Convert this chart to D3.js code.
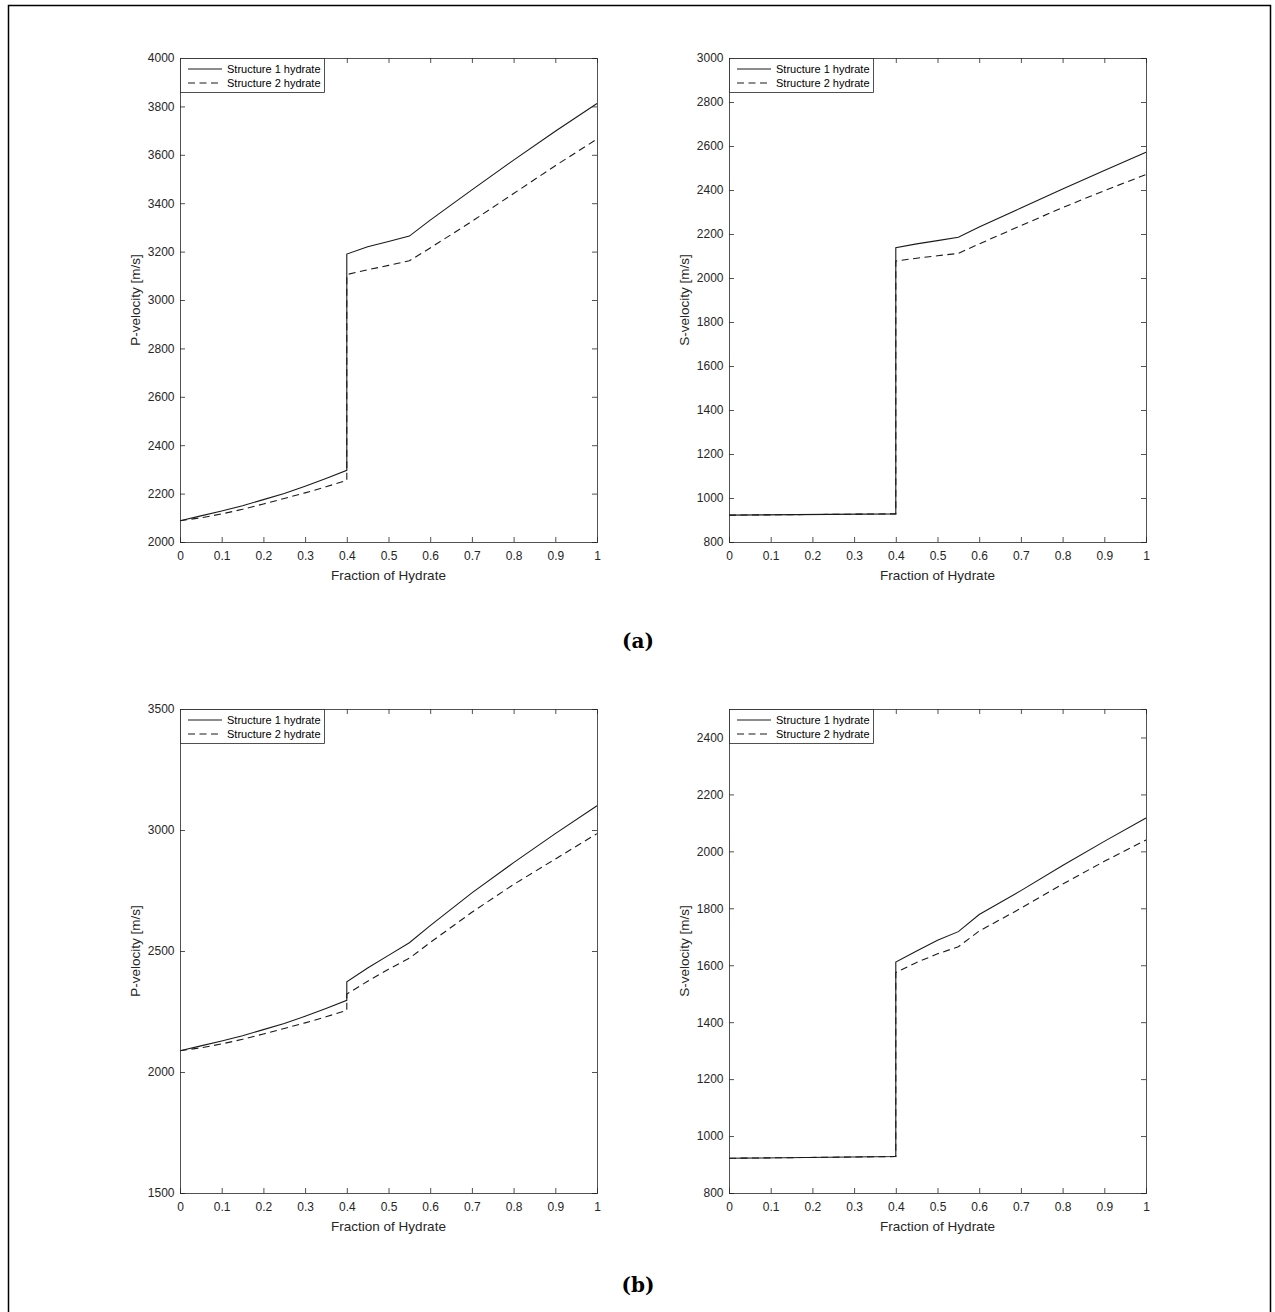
<!DOCTYPE html>
<html>
<head>
<meta charset="utf-8">
<script src="https://cdn.jsdelivr.net/npm/d3@7"></script>
<style>
  body { margin: 0; background: #fff; }
  svg text { font-family: "Liberation Sans", Arial, sans-serif; }
</style>
</head>
<body>
<div id="chart"></div>
<script>
// --- Data ---
// fraction of hydrate, lower branch (0 - 0.4) shared by the P panels
const lowX = [0, 0.05, 0.1, 0.15, 0.2, 0.25, 0.3, 0.35, 0.4];
const pLowS1 = [2088, 2108, 2128, 2150, 2175, 2200, 2230, 2262, 2296];
const pLowS2 = [2088, 2100, 2116, 2135, 2157, 2180, 2203, 2228, 2255];
// S panels, lower branch (nearly flat)
const sLowX = [0, 0.4];
const sLowS1 = [922, 928];
const sLowS2 = [922, 928];

// upper branch (0.4 - 1)
const highX = [0.4, 0.45, 0.5, 0.55, 0.6, 0.7, 0.8, 0.9, 1];
const pTopS1 = [3190, 3220, 3242, 3264, 3330, 3455, 3578, 3697, 3812];
const pTopS2 = [3105, 3125, 3143, 3162, 3215, 3325, 3440, 3555, 3665];
const sTopS1 = [2138, 2155, 2170, 2185, 2232, 2318, 2404, 2489, 2572];
const sTopS2 = [2077, 2090, 2101, 2112, 2155, 2238, 2320, 2397, 2470];
const pBotS1 = [2373, 2430, 2482, 2534, 2605, 2740, 2865, 2985, 3100];
const pBotS2 = [2322, 2375, 2425, 2470, 2535, 2660, 2775, 2880, 2985];
const sBotS1 = [1611, 1650, 1688, 1718, 1778, 1862, 1950, 2035, 2117];
const sBotS2 = [1574, 1610, 1640, 1665, 1720, 1800, 1885, 1965, 2040];

const xTicks = [0, 0.1, 0.2, 0.3, 0.4, 0.5, 0.6, 0.7, 0.8, 0.9, 1];
const legendLabels = ["Structure 1 hydrate", "Structure 2 hydrate"];

const W = 1275, H = 1312;
const PW = 417, PH = 484;
const AX = "#262626";

const svg = d3.select("#chart").append("svg")
    .attr("width", W)
    .attr("height", H);

// outer frame (bottom edge runs off the page)
svg.append("path")
    .attr("d", "M8.5,1320V5.5H1270.5V1320")
    .attr("fill", "none")
    .attr("stroke", "#000")
    .attr("stroke-width", 1.5);

function toPoints(xs, ys) {
    return xs.map((x, i) => [x, ys[i]]);
}

function drawPanel(left, top, yDomain, yTicks, yLabel, s1, s2) {
    const g = svg.append("g").attr("transform", `translate(${left},${top})`);
    const x = d3.scaleLinear().domain([0, 1]).range([0, PW]);
    const y = d3.scaleLinear().domain(yDomain).range([PH, 0]);

    const line = d3.line().x(d => x(d[0])).y(d => y(d[1]));

    // series: solid and dashed, both jumping at 0.4
    g.append("path")
        .datum(s2)
        .attr("d", line)
        .attr("fill", "none")
        .attr("stroke", "#1a1a1a")
        .attr("stroke-width", 1.1)
        .attr("stroke-dasharray", "7,4.5");
    g.append("path")
        .datum(s1)
        .attr("d", line)
        .attr("fill", "none")
        .attr("stroke", "#1a1a1a")
        .attr("stroke-width", 1.1);

    // axes, MATLAB style: ticks inside, box on
    const tl = 5;
    const xb = g.append("g").attr("transform", `translate(0,${PH})`)
        .call(d3.axisBottom(x).tickValues(xTicks).tickSize(-tl).tickPadding(9.5)
            .tickFormat(d3.format("")));
    const xt = g.append("g")
        .call(d3.axisTop(x).tickValues(xTicks).tickSize(-tl).tickFormat(""));
    const yl = g.append("g")
        .call(d3.axisLeft(y).tickValues(yTicks).tickSize(-tl).tickPadding(5.5)
            .tickFormat(d3.format("")));
    const yr = g.append("g").attr("transform", `translate(${PW},0)`)
        .call(d3.axisRight(y).tickValues(yTicks).tickSize(-tl).tickFormat(""));

    [xb, xt, yl, yr].forEach(a => {
        a.select(".domain").attr("stroke", AX).attr("stroke-width", 0.8);
        a.selectAll(".tick line").attr("stroke", AX).attr("stroke-width", 0.8);
        a.selectAll(".tick text")
            .attr("fill", AX)
            .style("font-size", "12px");
    });
    // drop end ticks sitting on the box
    xt.selectAll(".tick").filter(d => d === 0 || d === 1).select("line").remove();
    xb.selectAll(".tick").filter(d => d === 0 || d === 1).select("line").remove();

    g.append("text")
        .attr("x", PW / 2)
        .attr("y", PH + 38)
        .attr("text-anchor", "middle")
        .attr("fill", AX)
        .style("font-size", "13.5px")
        .text("Fraction of Hydrate");

    g.append("text")
        .attr("transform", `translate(-40,${PH / 2}) rotate(-90)`)
        .attr("text-anchor", "middle")
        .attr("fill", AX)
        .style("font-size", "13.5px")
        .text(yLabel);

    // legend
    const lg = g.append("g");
    lg.append("rect")
        .attr("x", 0.5).attr("y", 0.5)
        .attr("width", 144).attr("height", 34)
        .attr("fill", "#fff")
        .attr("stroke", AX)
        .attr("stroke-width", 0.8);
    legendLabels.forEach((lab, i) => {
        const ly = 11 + i * 14;
        lg.append("line")
            .attr("x1", 8).attr("x2", 42)
            .attr("y1", ly).attr("y2", ly)
            .attr("stroke", "#1a1a1a")
            .attr("stroke-width", 1.1)
            .attr("stroke-dasharray", i === 1 ? "7,4.5" : null);
        lg.append("text")
            .attr("x", 47)
            .attr("y", ly + 4)
            .attr("fill", "#000")
            .style("font-size", "11px")
            .text(lab);
    });
}

const pPanel1 = toPoints(lowX.concat(highX), pLowS1.concat(pTopS1));
const pPanel2 = toPoints(lowX.concat(highX), pLowS2.concat(pTopS2));
const sPanel1 = toPoints(sLowX.concat(highX), sLowS1.concat(sTopS1));
const sPanel2 = toPoints(sLowX.concat(highX), sLowS2.concat(sTopS2));
const pBot1 = toPoints(lowX.concat(highX), pLowS1.concat(pBotS1));
const pBot2 = toPoints(lowX.concat(highX), pLowS2.concat(pBotS2));
const sBot1 = toPoints(sLowX.concat(highX), sLowS1.concat(sBotS1));
const sBot2 = toPoints(sLowX.concat(highX), sLowS2.concat(sBotS2));

drawPanel(180, 58, [2000, 4000], d3.range(2000, 4001, 200), "P-velocity [m/s]", pPanel1, pPanel2);
drawPanel(729, 58, [800, 3000], d3.range(800, 3001, 200), "S-velocity [m/s]", sPanel1, sPanel2);
drawPanel(180, 709, [1500, 3500], d3.range(1500, 3501, 500), "P-velocity [m/s]", pBot1, pBot2);
drawPanel(729, 709, [800, 2500], d3.range(800, 2401, 200), "S-velocity [m/s]", sBot1, sBot2);

// sub-figure captions
[["(a)", 648], ["(b)", 1292]].forEach(([t, yy]) => {
    svg.append("text")
        .attr("x", 638)
        .attr("y", yy)
        .attr("text-anchor", "middle")
        .attr("fill", "#000")
        .style("font-family", "'DejaVu Serif', 'Liberation Serif', serif")
        .style("font-weight", "bold")
        .style("font-size", "20px")
        .text(t);
});
</script>
</body>
</html>
